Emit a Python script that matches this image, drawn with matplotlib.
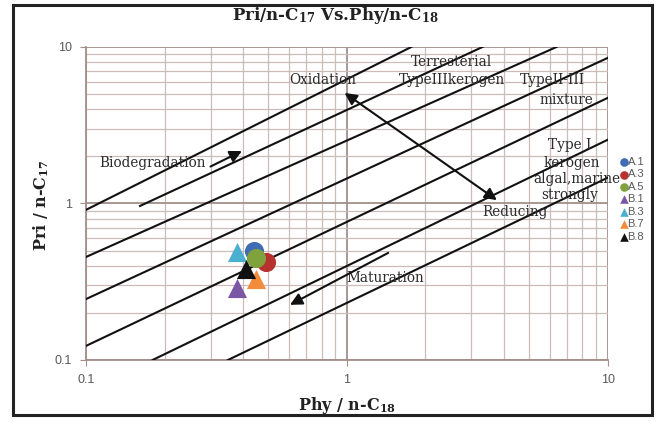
import numpy as np
import matplotlib
matplotlib.use('Agg')
import matplotlib.pyplot as plt
from matplotlib.patches import Rectangle

plt.rcParams['mathtext.default'] = 'regular'

# samples
names = ['A.1', 'A.3', 'A.5', 'B.1', 'B.3', 'B.7', 'B.8']
phy_c18 = [0.44, 0.49, 0.45, 0.38, 0.38, 0.45, 0.41]
pri_c17 = [0.50, 0.42, 0.45, 0.29, 0.49, 0.33, 0.38]
markers = ['o', 'o', 'o', '^', '^', '^', '^']
colors = ['#3f6cb3', '#b7322f', '#80a23c', '#7a58a5', '#4bb0d0', '#f28c3c', '#111111']

# boundary lines (x0, y0, x1, y1)
lines_x0 = [0.10, 0.161, 0.10, 0.10, 0.10, 0.18, 0.35]
lines_y0 = [0.91, 0.963, 0.455, 0.245, 0.123, 0.10, 0.10]
lines_x1 = [1.77, 3.32, 6.38, 10.0, 10.0, 10.0, 10.0]
lines_y1 = [10.0, 10.0, 10.0, 8.5, 4.72, 2.55, 1.46]

# zone labels (text, x, y)
labels = [('Biodegradation', 0.18, 1.81),
          ('Oxidation', 0.81, 6.15),
          ('Terresterial', 2.52, 8.02),
          ('TypeIIIkerogen', 2.52, 6.15),
          ('TypeII-III', 6.16, 6.15),
          ('mixture', 6.97, 4.58),
          ('Type I', 7.15, 2.36),
          ('kerogen', 7.31, 1.81),
          ('algal,marine', 7.6, 1.43),
          ('strongly', 7.15, 1.13),
          ('Reducing', 4.4, 0.88),
          ('Maturation', 1.40, 0.334)]

# arrows (tail x, tail y, head x, head y, style)
arrows = [(0.30, 1.72, 0.396, 2.16, '-|>'),
          (3.76, 1.05, 0.98, 5.08, '<|-|>'),
          (1.44, 0.483, 0.605, 0.225, '-|>')]

fig = plt.figure(figsize=(6.62, 4.22), dpi=100)
ax = fig.add_axes([0.130, 0.147, 0.788, 0.742])
ax.set_xscale('log')
ax.set_yscale('log')
ax.set_xlim(0.1, 10)
ax.set_ylim(0.1, 10)

ax.grid(which='major', color='#a38f8a', lw=1.3)
ax.grid(which='minor', color='#cbbcb8', lw=0.9)
ax.set_axisbelow(True)
for s in ['top', 'right']:
    ax.spines[s].set_visible(False)
for s in ['left', 'bottom']:
    ax.spines[s].set_color('#a38f8a')
    ax.spines[s].set_linewidth(1.3)

ax.set_xticks([0.1, 1, 10])
ax.set_xticklabels(['0.1', '1', '10'])
ax.set_yticks([0.1, 1, 10])
ax.set_yticklabels(['0.1', '1', '10'])
ax.tick_params(which='major', length=4, color='#a38f8a', labelcolor='#595959',
               labelsize=9, pad=6)
ax.tick_params(which='minor', length=0)
for t in ax.get_xticklabels() + ax.get_yticklabels():
    t.set_family('Liberation Sans')

for i in range(len(lines_x0)):
    ax.plot([lines_x0[i], lines_x1[i]], [lines_y0[i], lines_y1[i]],
            color='#111111', lw=1.5, zorder=3)

for txt, x, y in labels:
    ax.text(x, y, txt, ha='center', va='center', fontsize=9.8,
            family='DejaVu Serif', color='#2b2b2b', zorder=4)

for x0, y0, x1, y1, st in arrows:
    ax.annotate('', xy=(x1, y1), xytext=(x0, y0),
                arrowprops=dict(arrowstyle=st, color='#111111', lw=1.5,
                                mutation_scale=18, shrinkA=0, shrinkB=0),
                zorder=5)

for i in range(len(names)):
    ax.scatter(phy_c18[i], pri_c17[i], s=190, marker=markers[i], color=colors[i],
               label=names[i], zorder=6, linewidths=0)

fig.text(0.506, 0.964, 'Pri/n-C$_{17}$ Vs.Phy/n-C$_{18}$', family='DejaVu Serif',
         fontweight='bold', fontsize=12, color='#222222', ha='center', va='center')
fig.text(0.524, 0.040, 'Phy / n-C$_{18}$', family='DejaVu Serif', fontweight='bold',
         fontsize=11.5, color='#222222', ha='center', va='center')
fig.text(0.062, 0.514, 'Pri / n-C$_{17}$', family='DejaVu Serif', fontweight='bold',
         fontsize=11.5, color='#222222', ha='center', va='center', rotation=90)

leg = ax.legend(loc='upper left', bbox_to_anchor=(0.937, 0.628),
                bbox_transform=fig.transFigure, frameon=False, fontsize=8,
                markerscale=0.45, handletextpad=0.05, labelspacing=0.22,
                handlelength=0.6, borderpad=0, borderaxespad=0)
for t in leg.get_texts():
    t.set_color('#595959')
    t.set_family('Liberation Sans')

fig.patches.append(Rectangle((0.02, 0.017), 0.965, 0.971, transform=fig.transFigure,
                             fill=False, edgecolor='#222222', lw=2.2))

fig.savefig('out.png', dpi=100)
